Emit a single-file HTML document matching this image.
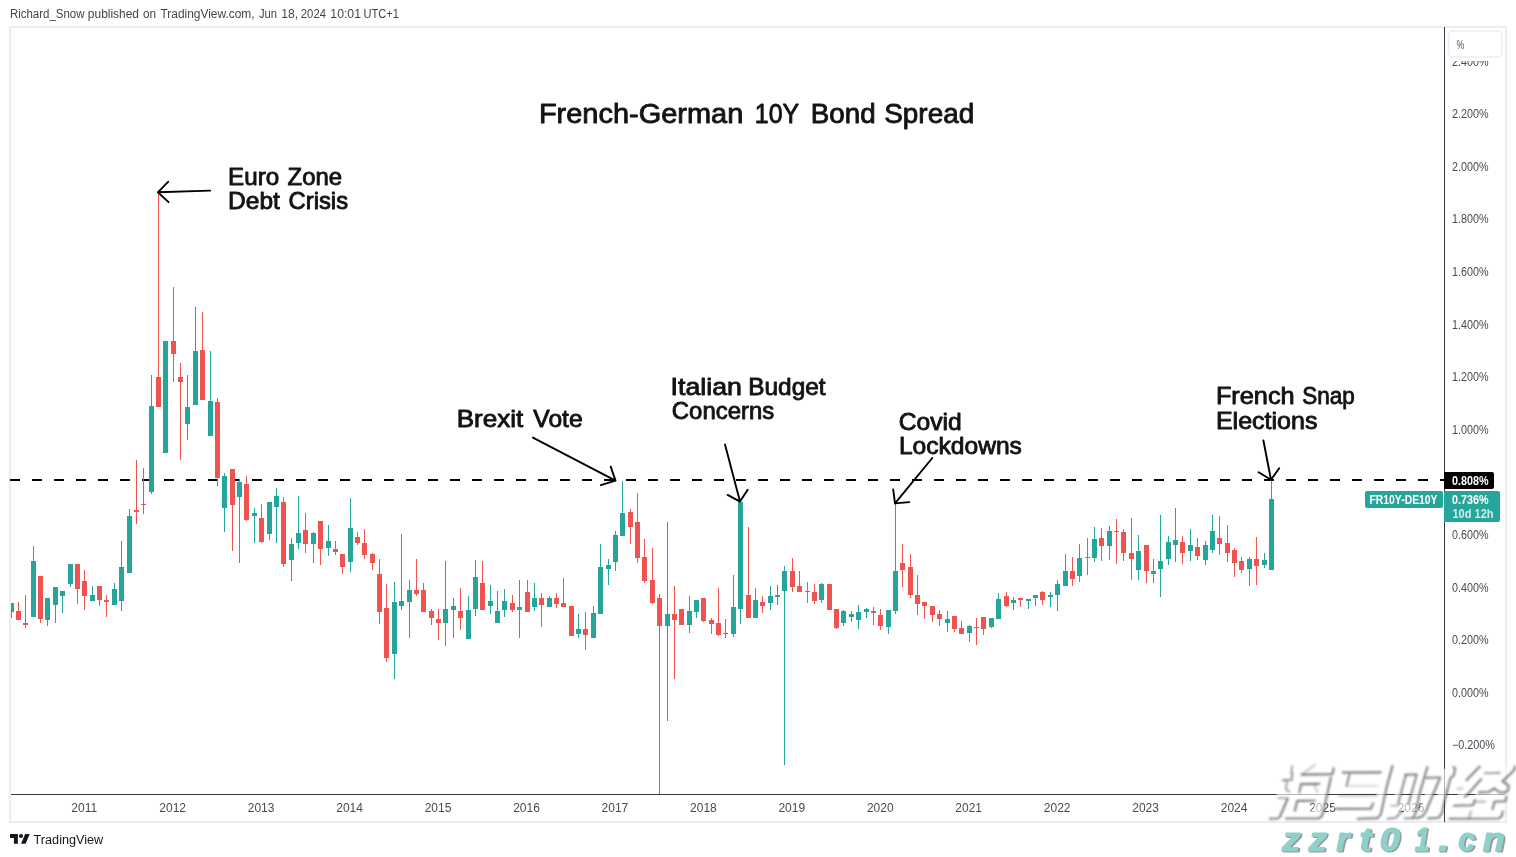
<!DOCTYPE html>
<html><head><meta charset="utf-8"><title>French-German 10Y Bond Spread</title>
<style>
html,body{margin:0;padding:0;background:#fff;}
body{width:1516px;height:857px;overflow:hidden;position:relative;font-family:"Liberation Sans",sans-serif;}
svg{position:absolute;left:0;top:0;display:block;will-change:transform;}
text{font-family:"Liberation Sans",sans-serif;}
.ax{font-size:12px;fill:#474a54;}
.hdr{font-size:12px;fill:#42454f;}
.wm{font-size:33px;font-weight:bold;font-style:italic;fill:#8fd1ca;stroke:#8fd1ca;stroke-width:1.2px;stroke-linejoin:round;}
.wms{fill:#9c97a0;stroke:#9c97a0;}
.lbl{font-size:23.05px;fill:#131313;stroke:#131313;stroke-width:0.85px;stroke-linejoin:round;}
.ttl{font-size:27.3px;fill:#131313;stroke:#131313;stroke-width:0.85px;stroke-linejoin:round;}
</style></head><body>
<svg width="1516" height="857" viewBox="0 0 1516 857">

<rect x="10" y="27" width="1496" height="795" fill="#fff" stroke="#ecedf2" stroke-width="2"/>
<line x1="10" y1="480" x2="1444" y2="480" stroke="#000" stroke-width="2" stroke-dasharray="10 12" shape-rendering="crispEdges"/>
<g shape-rendering="crispEdges">
<rect x="11" y="603" width="1" height="15" fill="#26a69a"/>
<rect x="11" y="603" width="3" height="9" fill="#26a69a"/>
<rect x="18" y="602" width="1" height="18" fill="#ef5350"/>
<rect x="16" y="611" width="5" height="9" fill="#ef5350"/>
<rect x="25" y="595" width="1" height="33" fill="#ef5350"/>
<rect x="23" y="623" width="5" height="2" fill="#ef5350"/>
<rect x="33" y="546" width="1" height="71" fill="#26a69a"/>
<rect x="31" y="561" width="5" height="56" fill="#26a69a"/>
<rect x="40" y="576" width="1" height="47" fill="#ef5350"/>
<rect x="38" y="576" width="5" height="43" fill="#ef5350"/>
<rect x="47" y="598" width="1" height="28" fill="#26a69a"/>
<rect x="45" y="598" width="5" height="22" fill="#26a69a"/>
<rect x="55" y="587" width="1" height="36" fill="#26a69a"/>
<rect x="53" y="587" width="5" height="18" fill="#26a69a"/>
<rect x="62" y="591" width="1" height="22" fill="#26a69a"/>
<rect x="60" y="591" width="5" height="5" fill="#26a69a"/>
<rect x="70" y="564" width="1" height="23" fill="#26a69a"/>
<rect x="68" y="564" width="5" height="20" fill="#26a69a"/>
<rect x="77" y="564" width="1" height="40" fill="#ef5350"/>
<rect x="75" y="564" width="5" height="25" fill="#ef5350"/>
<rect x="84" y="570" width="1" height="40" fill="#ef5350"/>
<rect x="82" y="581" width="5" height="15" fill="#ef5350"/>
<rect x="92" y="586" width="1" height="15" fill="#26a69a"/>
<rect x="90" y="595" width="5" height="6" fill="#26a69a"/>
<rect x="99" y="586" width="1" height="20" fill="#ef5350"/>
<rect x="97" y="586" width="5" height="14" fill="#ef5350"/>
<rect x="106" y="595" width="1" height="22" fill="#ef5350"/>
<rect x="104" y="600" width="5" height="2" fill="#ef5350"/>
<rect x="114" y="583" width="1" height="22" fill="#26a69a"/>
<rect x="112" y="589" width="5" height="16" fill="#26a69a"/>
<rect x="121" y="541" width="1" height="70" fill="#26a69a"/>
<rect x="119" y="567" width="5" height="34" fill="#26a69a"/>
<rect x="129" y="509" width="1" height="64" fill="#26a69a"/>
<rect x="127" y="516" width="5" height="57" fill="#26a69a"/>
<rect x="136" y="460" width="1" height="64" fill="#ef5350"/>
<rect x="134" y="510" width="5" height="2" fill="#ef5350"/>
<rect x="143" y="468" width="1" height="46" fill="#ef5350"/>
<rect x="141" y="504" width="5" height="1" fill="#ef5350"/>
<rect x="151" y="375" width="1" height="119" fill="#26a69a"/>
<rect x="149" y="406" width="5" height="86" fill="#26a69a"/>
<rect x="158" y="192" width="1" height="215" fill="#ef5350"/>
<rect x="156" y="377" width="5" height="30" fill="#ef5350"/>
<rect x="165" y="341" width="1" height="112" fill="#26a69a"/>
<rect x="163" y="341" width="5" height="112" fill="#26a69a"/>
<rect x="173" y="287" width="1" height="95" fill="#ef5350"/>
<rect x="171" y="341" width="5" height="13" fill="#ef5350"/>
<rect x="180" y="363" width="1" height="97" fill="#ef5350"/>
<rect x="178" y="377" width="5" height="5" fill="#ef5350"/>
<rect x="187" y="375" width="1" height="65" fill="#26a69a"/>
<rect x="185" y="407" width="5" height="17" fill="#26a69a"/>
<rect x="195" y="307" width="1" height="98" fill="#26a69a"/>
<rect x="193" y="351" width="5" height="54" fill="#26a69a"/>
<rect x="202" y="312" width="1" height="88" fill="#ef5350"/>
<rect x="200" y="350" width="5" height="50" fill="#ef5350"/>
<rect x="210" y="351" width="1" height="85" fill="#26a69a"/>
<rect x="208" y="401" width="5" height="35" fill="#26a69a"/>
<rect x="217" y="398" width="1" height="88" fill="#ef5350"/>
<rect x="215" y="402" width="5" height="76" fill="#ef5350"/>
<rect x="224" y="473" width="1" height="59" fill="#26a69a"/>
<rect x="222" y="476" width="5" height="32" fill="#26a69a"/>
<rect x="232" y="469" width="1" height="82" fill="#ef5350"/>
<rect x="230" y="469" width="5" height="36" fill="#ef5350"/>
<rect x="239" y="479" width="1" height="84" fill="#26a69a"/>
<rect x="237" y="482" width="5" height="15" fill="#26a69a"/>
<rect x="246" y="476" width="1" height="45" fill="#ef5350"/>
<rect x="244" y="484" width="5" height="36" fill="#ef5350"/>
<rect x="254" y="508" width="1" height="35" fill="#26a69a"/>
<rect x="252" y="513" width="5" height="3" fill="#26a69a"/>
<rect x="261" y="504" width="1" height="39" fill="#ef5350"/>
<rect x="259" y="518" width="5" height="24" fill="#ef5350"/>
<rect x="269" y="502" width="1" height="38" fill="#26a69a"/>
<rect x="267" y="502" width="5" height="32" fill="#26a69a"/>
<rect x="276" y="488" width="1" height="55" fill="#26a69a"/>
<rect x="274" y="496" width="5" height="11" fill="#26a69a"/>
<rect x="283" y="497" width="1" height="70" fill="#ef5350"/>
<rect x="281" y="502" width="5" height="62" fill="#ef5350"/>
<rect x="291" y="538" width="1" height="43" fill="#26a69a"/>
<rect x="289" y="544" width="5" height="16" fill="#26a69a"/>
<rect x="298" y="496" width="1" height="53" fill="#26a69a"/>
<rect x="296" y="533" width="5" height="10" fill="#26a69a"/>
<rect x="305" y="513" width="1" height="40" fill="#ef5350"/>
<rect x="303" y="530" width="5" height="14" fill="#ef5350"/>
<rect x="313" y="532" width="1" height="31" fill="#26a69a"/>
<rect x="311" y="533" width="5" height="11" fill="#26a69a"/>
<rect x="320" y="521" width="1" height="44" fill="#ef5350"/>
<rect x="318" y="521" width="5" height="28" fill="#ef5350"/>
<rect x="328" y="525" width="1" height="31" fill="#26a69a"/>
<rect x="326" y="541" width="5" height="7" fill="#26a69a"/>
<rect x="335" y="541" width="1" height="14" fill="#ef5350"/>
<rect x="333" y="549" width="5" height="3" fill="#ef5350"/>
<rect x="342" y="554" width="1" height="20" fill="#ef5350"/>
<rect x="340" y="554" width="5" height="13" fill="#ef5350"/>
<rect x="350" y="498" width="1" height="74" fill="#26a69a"/>
<rect x="348" y="528" width="5" height="34" fill="#26a69a"/>
<rect x="357" y="532" width="1" height="13" fill="#ef5350"/>
<rect x="355" y="537" width="5" height="6" fill="#ef5350"/>
<rect x="364" y="529" width="1" height="30" fill="#ef5350"/>
<rect x="362" y="543" width="5" height="12" fill="#ef5350"/>
<rect x="372" y="553" width="1" height="17" fill="#ef5350"/>
<rect x="370" y="554" width="5" height="9" fill="#ef5350"/>
<rect x="379" y="559" width="1" height="65" fill="#ef5350"/>
<rect x="377" y="574" width="5" height="38" fill="#ef5350"/>
<rect x="386" y="584" width="1" height="78" fill="#ef5350"/>
<rect x="384" y="608" width="5" height="50" fill="#ef5350"/>
<rect x="394" y="582" width="1" height="97" fill="#26a69a"/>
<rect x="392" y="602" width="5" height="52" fill="#26a69a"/>
<rect x="401" y="534" width="1" height="76" fill="#26a69a"/>
<rect x="399" y="601" width="5" height="5" fill="#26a69a"/>
<rect x="409" y="580" width="1" height="58" fill="#26a69a"/>
<rect x="407" y="590" width="5" height="12" fill="#26a69a"/>
<rect x="416" y="559" width="1" height="37" fill="#ef5350"/>
<rect x="414" y="590" width="5" height="4" fill="#ef5350"/>
<rect x="423" y="583" width="1" height="29" fill="#ef5350"/>
<rect x="421" y="590" width="5" height="22" fill="#ef5350"/>
<rect x="431" y="609" width="1" height="16" fill="#ef5350"/>
<rect x="429" y="611" width="5" height="7" fill="#ef5350"/>
<rect x="438" y="609" width="1" height="31" fill="#ef5350"/>
<rect x="436" y="619" width="5" height="4" fill="#ef5350"/>
<rect x="445" y="561" width="1" height="85" fill="#26a69a"/>
<rect x="443" y="609" width="5" height="14" fill="#26a69a"/>
<rect x="453" y="598" width="1" height="40" fill="#26a69a"/>
<rect x="451" y="606" width="5" height="4" fill="#26a69a"/>
<rect x="460" y="588" width="1" height="42" fill="#ef5350"/>
<rect x="458" y="611" width="5" height="7" fill="#ef5350"/>
<rect x="468" y="596" width="1" height="43" fill="#26a69a"/>
<rect x="466" y="610" width="5" height="29" fill="#26a69a"/>
<rect x="475" y="560" width="1" height="56" fill="#26a69a"/>
<rect x="473" y="577" width="5" height="32" fill="#26a69a"/>
<rect x="482" y="561" width="1" height="49" fill="#ef5350"/>
<rect x="480" y="583" width="5" height="27" fill="#ef5350"/>
<rect x="490" y="585" width="1" height="29" fill="#26a69a"/>
<rect x="488" y="601" width="5" height="5" fill="#26a69a"/>
<rect x="497" y="591" width="1" height="32" fill="#26a69a"/>
<rect x="495" y="611" width="5" height="12" fill="#26a69a"/>
<rect x="504" y="589" width="1" height="28" fill="#26a69a"/>
<rect x="502" y="601" width="5" height="9" fill="#26a69a"/>
<rect x="512" y="595" width="1" height="17" fill="#ef5350"/>
<rect x="510" y="603" width="5" height="7" fill="#ef5350"/>
<rect x="519" y="580" width="1" height="58" fill="#26a69a"/>
<rect x="517" y="607" width="5" height="3" fill="#26a69a"/>
<rect x="527" y="580" width="1" height="32" fill="#ef5350"/>
<rect x="525" y="592" width="5" height="20" fill="#ef5350"/>
<rect x="534" y="583" width="1" height="28" fill="#26a69a"/>
<rect x="532" y="598" width="5" height="9" fill="#26a69a"/>
<rect x="541" y="593" width="1" height="34" fill="#ef5350"/>
<rect x="539" y="598" width="5" height="7" fill="#ef5350"/>
<rect x="549" y="596" width="1" height="11" fill="#26a69a"/>
<rect x="547" y="598" width="5" height="9" fill="#26a69a"/>
<rect x="556" y="593" width="1" height="15" fill="#ef5350"/>
<rect x="554" y="598" width="5" height="6" fill="#ef5350"/>
<rect x="563" y="578" width="1" height="29" fill="#ef5350"/>
<rect x="561" y="603" width="5" height="4" fill="#ef5350"/>
<rect x="571" y="606" width="1" height="30" fill="#ef5350"/>
<rect x="569" y="606" width="5" height="30" fill="#ef5350"/>
<rect x="578" y="614" width="1" height="24" fill="#26a69a"/>
<rect x="576" y="629" width="5" height="5" fill="#26a69a"/>
<rect x="585" y="612" width="1" height="38" fill="#ef5350"/>
<rect x="583" y="629" width="5" height="6" fill="#ef5350"/>
<rect x="593" y="606" width="1" height="32" fill="#26a69a"/>
<rect x="591" y="613" width="5" height="25" fill="#26a69a"/>
<rect x="600" y="544" width="1" height="70" fill="#26a69a"/>
<rect x="598" y="567" width="5" height="47" fill="#26a69a"/>
<rect x="608" y="559" width="1" height="26" fill="#26a69a"/>
<rect x="606" y="565" width="5" height="4" fill="#26a69a"/>
<rect x="615" y="531" width="1" height="40" fill="#26a69a"/>
<rect x="613" y="535" width="5" height="27" fill="#26a69a"/>
<rect x="622" y="481" width="1" height="55" fill="#26a69a"/>
<rect x="620" y="513" width="5" height="23" fill="#26a69a"/>
<rect x="630" y="509" width="1" height="35" fill="#ef5350"/>
<rect x="628" y="512" width="5" height="15" fill="#ef5350"/>
<rect x="637" y="493" width="1" height="70" fill="#ef5350"/>
<rect x="635" y="522" width="5" height="36" fill="#ef5350"/>
<rect x="644" y="539" width="1" height="44" fill="#ef5350"/>
<rect x="642" y="557" width="5" height="24" fill="#ef5350"/>
<rect x="652" y="548" width="1" height="56" fill="#ef5350"/>
<rect x="650" y="580" width="5" height="23" fill="#ef5350"/>
<rect x="659" y="594" width="1" height="200" fill="#ef5350"/>
<rect x="657" y="598" width="5" height="28" fill="#ef5350"/>
<rect x="667" y="522" width="1" height="199" fill="#26a69a"/>
<rect x="665" y="614" width="5" height="12" fill="#26a69a"/>
<rect x="674" y="586" width="1" height="93" fill="#ef5350"/>
<rect x="672" y="614" width="5" height="6" fill="#ef5350"/>
<rect x="681" y="609" width="1" height="16" fill="#ef5350"/>
<rect x="679" y="609" width="5" height="16" fill="#ef5350"/>
<rect x="689" y="596" width="1" height="37" fill="#26a69a"/>
<rect x="687" y="611" width="5" height="14" fill="#26a69a"/>
<rect x="696" y="600" width="1" height="18" fill="#26a69a"/>
<rect x="694" y="600" width="5" height="12" fill="#26a69a"/>
<rect x="703" y="598" width="1" height="24" fill="#ef5350"/>
<rect x="701" y="598" width="5" height="23" fill="#ef5350"/>
<rect x="711" y="618" width="1" height="16" fill="#ef5350"/>
<rect x="709" y="620" width="5" height="4" fill="#ef5350"/>
<rect x="718" y="588" width="1" height="48" fill="#ef5350"/>
<rect x="716" y="623" width="5" height="12" fill="#ef5350"/>
<rect x="725" y="619" width="1" height="19" fill="#26a69a"/>
<rect x="723" y="633" width="5" height="1" fill="#26a69a"/>
<rect x="733" y="575" width="1" height="62" fill="#26a69a"/>
<rect x="731" y="607" width="5" height="27" fill="#26a69a"/>
<rect x="740" y="502" width="1" height="122" fill="#26a69a"/>
<rect x="738" y="502" width="5" height="107" fill="#26a69a"/>
<rect x="748" y="527" width="1" height="91" fill="#ef5350"/>
<rect x="746" y="595" width="5" height="23" fill="#ef5350"/>
<rect x="755" y="588" width="1" height="30" fill="#26a69a"/>
<rect x="753" y="600" width="5" height="18" fill="#26a69a"/>
<rect x="762" y="596" width="1" height="17" fill="#ef5350"/>
<rect x="760" y="602" width="5" height="4" fill="#ef5350"/>
<rect x="770" y="586" width="1" height="24" fill="#26a69a"/>
<rect x="768" y="596" width="5" height="7" fill="#26a69a"/>
<rect x="777" y="585" width="1" height="20" fill="#26a69a"/>
<rect x="775" y="595" width="5" height="2" fill="#26a69a"/>
<rect x="784" y="566" width="1" height="199" fill="#26a69a"/>
<rect x="782" y="571" width="5" height="20" fill="#26a69a"/>
<rect x="792" y="558" width="1" height="34" fill="#ef5350"/>
<rect x="790" y="571" width="5" height="16" fill="#ef5350"/>
<rect x="799" y="571" width="1" height="21" fill="#ef5350"/>
<rect x="797" y="586" width="5" height="6" fill="#ef5350"/>
<rect x="807" y="582" width="1" height="21" fill="#ef5350"/>
<rect x="805" y="591" width="5" height="1" fill="#ef5350"/>
<rect x="814" y="584" width="1" height="20" fill="#ef5350"/>
<rect x="812" y="592" width="5" height="9" fill="#ef5350"/>
<rect x="821" y="583" width="1" height="20" fill="#26a69a"/>
<rect x="819" y="584" width="5" height="16" fill="#26a69a"/>
<rect x="829" y="584" width="1" height="26" fill="#ef5350"/>
<rect x="827" y="584" width="5" height="26" fill="#ef5350"/>
<rect x="836" y="609" width="1" height="20" fill="#ef5350"/>
<rect x="834" y="609" width="5" height="19" fill="#ef5350"/>
<rect x="843" y="610" width="1" height="16" fill="#26a69a"/>
<rect x="841" y="611" width="5" height="12" fill="#26a69a"/>
<rect x="851" y="611" width="1" height="11" fill="#26a69a"/>
<rect x="849" y="614" width="5" height="3" fill="#26a69a"/>
<rect x="858" y="605" width="1" height="24" fill="#26a69a"/>
<rect x="856" y="612" width="5" height="8" fill="#26a69a"/>
<rect x="866" y="608" width="1" height="10" fill="#26a69a"/>
<rect x="864" y="609" width="5" height="3" fill="#26a69a"/>
<rect x="873" y="607" width="1" height="18" fill="#ef5350"/>
<rect x="871" y="611" width="5" height="2" fill="#ef5350"/>
<rect x="880" y="609" width="1" height="21" fill="#ef5350"/>
<rect x="878" y="615" width="5" height="11" fill="#ef5350"/>
<rect x="888" y="610" width="1" height="24" fill="#26a69a"/>
<rect x="886" y="610" width="5" height="17" fill="#26a69a"/>
<rect x="895" y="504" width="1" height="110" fill="#26a69a"/>
<rect x="893" y="571" width="5" height="40" fill="#26a69a"/>
<rect x="902" y="544" width="1" height="43" fill="#ef5350"/>
<rect x="900" y="563" width="5" height="7" fill="#ef5350"/>
<rect x="910" y="554" width="1" height="44" fill="#ef5350"/>
<rect x="908" y="567" width="5" height="28" fill="#ef5350"/>
<rect x="917" y="575" width="1" height="40" fill="#ef5350"/>
<rect x="915" y="595" width="5" height="9" fill="#ef5350"/>
<rect x="924" y="602" width="1" height="17" fill="#ef5350"/>
<rect x="922" y="602" width="5" height="4" fill="#ef5350"/>
<rect x="932" y="606" width="1" height="16" fill="#ef5350"/>
<rect x="930" y="606" width="5" height="9" fill="#ef5350"/>
<rect x="939" y="610" width="1" height="16" fill="#ef5350"/>
<rect x="937" y="614" width="5" height="5" fill="#ef5350"/>
<rect x="947" y="611" width="1" height="21" fill="#26a69a"/>
<rect x="945" y="619" width="5" height="4" fill="#26a69a"/>
<rect x="954" y="616" width="1" height="16" fill="#ef5350"/>
<rect x="952" y="616" width="5" height="13" fill="#ef5350"/>
<rect x="961" y="621" width="1" height="13" fill="#ef5350"/>
<rect x="959" y="628" width="5" height="6" fill="#ef5350"/>
<rect x="969" y="625" width="1" height="17" fill="#26a69a"/>
<rect x="967" y="626" width="5" height="7" fill="#26a69a"/>
<rect x="976" y="618" width="1" height="27" fill="#ef5350"/>
<rect x="974" y="627" width="5" height="1" fill="#ef5350"/>
<rect x="983" y="617" width="1" height="18" fill="#ef5350"/>
<rect x="981" y="617" width="5" height="12" fill="#ef5350"/>
<rect x="991" y="618" width="1" height="10" fill="#26a69a"/>
<rect x="989" y="618" width="5" height="9" fill="#26a69a"/>
<rect x="998" y="593" width="1" height="26" fill="#26a69a"/>
<rect x="996" y="599" width="5" height="20" fill="#26a69a"/>
<rect x="1006" y="592" width="1" height="15" fill="#ef5350"/>
<rect x="1004" y="596" width="5" height="10" fill="#ef5350"/>
<rect x="1013" y="597" width="1" height="13" fill="#26a69a"/>
<rect x="1011" y="600" width="5" height="3" fill="#26a69a"/>
<rect x="1020" y="598" width="1" height="9" fill="#ef5350"/>
<rect x="1018" y="598" width="5" height="2" fill="#ef5350"/>
<rect x="1028" y="599" width="1" height="10" fill="#26a69a"/>
<rect x="1026" y="599" width="5" height="2" fill="#26a69a"/>
<rect x="1035" y="595" width="1" height="11" fill="#26a69a"/>
<rect x="1033" y="595" width="5" height="3" fill="#26a69a"/>
<rect x="1042" y="591" width="1" height="14" fill="#ef5350"/>
<rect x="1040" y="592" width="5" height="8" fill="#ef5350"/>
<rect x="1050" y="592" width="1" height="15" fill="#26a69a"/>
<rect x="1048" y="595" width="5" height="2" fill="#26a69a"/>
<rect x="1057" y="580" width="1" height="31" fill="#26a69a"/>
<rect x="1055" y="584" width="5" height="11" fill="#26a69a"/>
<rect x="1065" y="554" width="1" height="32" fill="#26a69a"/>
<rect x="1063" y="571" width="5" height="15" fill="#26a69a"/>
<rect x="1072" y="557" width="1" height="29" fill="#ef5350"/>
<rect x="1070" y="571" width="5" height="8" fill="#ef5350"/>
<rect x="1079" y="544" width="1" height="38" fill="#26a69a"/>
<rect x="1077" y="558" width="5" height="18" fill="#26a69a"/>
<rect x="1087" y="538" width="1" height="37" fill="#ef5350"/>
<rect x="1085" y="557" width="5" height="1" fill="#ef5350"/>
<rect x="1094" y="527" width="1" height="35" fill="#26a69a"/>
<rect x="1092" y="539" width="5" height="19" fill="#26a69a"/>
<rect x="1101" y="528" width="1" height="33" fill="#ef5350"/>
<rect x="1099" y="538" width="5" height="8" fill="#ef5350"/>
<rect x="1109" y="526" width="1" height="34" fill="#26a69a"/>
<rect x="1107" y="531" width="5" height="15" fill="#26a69a"/>
<rect x="1116" y="519" width="1" height="45" fill="#ef5350"/>
<rect x="1114" y="531" width="5" height="1" fill="#ef5350"/>
<rect x="1123" y="529" width="1" height="32" fill="#ef5350"/>
<rect x="1121" y="532" width="5" height="21" fill="#ef5350"/>
<rect x="1131" y="518" width="1" height="62" fill="#ef5350"/>
<rect x="1129" y="553" width="5" height="6" fill="#ef5350"/>
<rect x="1138" y="535" width="1" height="45" fill="#26a69a"/>
<rect x="1136" y="551" width="5" height="19" fill="#26a69a"/>
<rect x="1146" y="545" width="1" height="38" fill="#ef5350"/>
<rect x="1144" y="545" width="5" height="26" fill="#ef5350"/>
<rect x="1153" y="559" width="1" height="24" fill="#26a69a"/>
<rect x="1151" y="571" width="5" height="3" fill="#26a69a"/>
<rect x="1160" y="515" width="1" height="82" fill="#26a69a"/>
<rect x="1158" y="561" width="5" height="8" fill="#26a69a"/>
<rect x="1168" y="536" width="1" height="29" fill="#26a69a"/>
<rect x="1166" y="542" width="5" height="17" fill="#26a69a"/>
<rect x="1175" y="508" width="1" height="54" fill="#26a69a"/>
<rect x="1173" y="540" width="5" height="5" fill="#26a69a"/>
<rect x="1182" y="536" width="1" height="28" fill="#ef5350"/>
<rect x="1180" y="542" width="5" height="11" fill="#ef5350"/>
<rect x="1190" y="529" width="1" height="32" fill="#26a69a"/>
<rect x="1188" y="545" width="5" height="6" fill="#26a69a"/>
<rect x="1197" y="538" width="1" height="22" fill="#ef5350"/>
<rect x="1195" y="547" width="5" height="9" fill="#ef5350"/>
<rect x="1205" y="541" width="1" height="24" fill="#26a69a"/>
<rect x="1203" y="545" width="5" height="15" fill="#26a69a"/>
<rect x="1212" y="515" width="1" height="38" fill="#26a69a"/>
<rect x="1210" y="531" width="5" height="19" fill="#26a69a"/>
<rect x="1219" y="516" width="1" height="39" fill="#ef5350"/>
<rect x="1217" y="538" width="5" height="6" fill="#ef5350"/>
<rect x="1227" y="525" width="1" height="37" fill="#ef5350"/>
<rect x="1225" y="543" width="5" height="10" fill="#ef5350"/>
<rect x="1234" y="548" width="1" height="29" fill="#ef5350"/>
<rect x="1232" y="550" width="5" height="13" fill="#ef5350"/>
<rect x="1241" y="557" width="1" height="16" fill="#ef5350"/>
<rect x="1239" y="561" width="5" height="9" fill="#ef5350"/>
<rect x="1249" y="557" width="1" height="29" fill="#26a69a"/>
<rect x="1247" y="559" width="5" height="10" fill="#26a69a"/>
<rect x="1256" y="537" width="1" height="48" fill="#ef5350"/>
<rect x="1254" y="559" width="5" height="7" fill="#ef5350"/>
<rect x="1264" y="553" width="1" height="15" fill="#26a69a"/>
<rect x="1262" y="560" width="5" height="5" fill="#26a69a"/>
<rect x="1271" y="480" width="1" height="90" fill="#26a69a"/>
<rect x="1269" y="499" width="5" height="71" fill="#26a69a"/>
</g>
<rect x="1444" y="27" width="1" height="795" fill="#363a45" shape-rendering="crispEdges"/>
<rect x="11" y="794" width="1494" height="1" fill="#363a45" shape-rendering="crispEdges"/>
<text class="ax" x="1452" y="65.5" textLength="36.5" lengthAdjust="spacingAndGlyphs">2.400%</text>
<text class="ax" x="1452" y="118.1" textLength="36.5" lengthAdjust="spacingAndGlyphs">2.200%</text>
<text class="ax" x="1452" y="170.7" textLength="36.5" lengthAdjust="spacingAndGlyphs">2.000%</text>
<text class="ax" x="1452" y="223.3" textLength="36.5" lengthAdjust="spacingAndGlyphs">1.800%</text>
<text class="ax" x="1452" y="275.9" textLength="36.5" lengthAdjust="spacingAndGlyphs">1.600%</text>
<text class="ax" x="1452" y="328.5" textLength="36.5" lengthAdjust="spacingAndGlyphs">1.400%</text>
<text class="ax" x="1452" y="381.1" textLength="36.5" lengthAdjust="spacingAndGlyphs">1.200%</text>
<text class="ax" x="1452" y="433.7" textLength="36.5" lengthAdjust="spacingAndGlyphs">1.000%</text>
<text class="ax" x="1452" y="538.9" textLength="36.5" lengthAdjust="spacingAndGlyphs">0.600%</text>
<text class="ax" x="1452" y="591.5" textLength="36.5" lengthAdjust="spacingAndGlyphs">0.400%</text>
<text class="ax" x="1452" y="644.1" textLength="36.5" lengthAdjust="spacingAndGlyphs">0.200%</text>
<text class="ax" x="1452" y="696.7" textLength="36.5" lengthAdjust="spacingAndGlyphs">0.000%</text>
<text class="ax" x="1452" y="749.3" textLength="43" lengthAdjust="spacingAndGlyphs">−0.200%</text>
<rect x="1445" y="28" width="59" height="33" fill="#fff"/>
<rect x="1448.5" y="31" width="53.5" height="26" rx="4" fill="#fff" stroke="#ecedf2" stroke-width="1.5"/>
<text x="1456.6" y="49" font-size="12.5px" fill="#50535e" textLength="7.8" lengthAdjust="spacingAndGlyphs">%</text>
<text class="ax" x="84.2" y="812" text-anchor="middle" fill="#50535e">2011</text>
<text class="ax" x="172.7" y="812" text-anchor="middle" fill="#50535e">2012</text>
<text class="ax" x="261.1" y="812" text-anchor="middle" fill="#50535e">2013</text>
<text class="ax" x="349.6" y="812" text-anchor="middle" fill="#50535e">2014</text>
<text class="ax" x="438.0" y="812" text-anchor="middle" fill="#50535e">2015</text>
<text class="ax" x="526.5" y="812" text-anchor="middle" fill="#50535e">2016</text>
<text class="ax" x="614.9" y="812" text-anchor="middle" fill="#50535e">2017</text>
<text class="ax" x="703.4" y="812" text-anchor="middle" fill="#50535e">2018</text>
<text class="ax" x="791.8" y="812" text-anchor="middle" fill="#50535e">2019</text>
<text class="ax" x="880.3" y="812" text-anchor="middle" fill="#50535e">2020</text>
<text class="ax" x="968.7" y="812" text-anchor="middle" fill="#50535e">2021</text>
<text class="ax" x="1057.2" y="812" text-anchor="middle" fill="#50535e">2022</text>
<text class="ax" x="1145.6" y="812" text-anchor="middle" fill="#50535e">2023</text>
<text class="ax" x="1234.1" y="812" text-anchor="middle" fill="#50535e">2024</text>
<text class="ax" x="1322.5" y="812" text-anchor="middle" fill="#50535e">2025</text>
<text class="ax" x="1411.0" y="812" text-anchor="middle" fill="#50535e">2026</text>
<path d="M1444 472h48a2 2 0 0 1 2 2v13a2 2 0 0 1-2 2h-48z" fill="#000"/>
<text x="1452" y="484.6" font-size="12px" font-weight="bold" fill="#fff" textLength="36.5" lengthAdjust="spacingAndGlyphs">0.808%</text>
<rect x="1365" y="491" width="78" height="17" rx="2" fill="#26a69a"/>
<text x="1369.5" y="503.8" font-size="12px" font-weight="bold" fill="#fff" textLength="68" lengthAdjust="spacingAndGlyphs">FR10Y-DE10Y</text>
<path d="M1444 491h54a2 2 0 0 1 2 2v27a2 2 0 0 1-2 2h-54z" fill="#26a69a"/>
<text x="1452" y="503.8" font-size="12px" font-weight="bold" fill="#fff" textLength="36.5" lengthAdjust="spacingAndGlyphs">0.736%</text>
<text x="1452.5" y="517.8" font-size="12px" font-weight="bold" fill="#d4edeb" textLength="41" lengthAdjust="spacingAndGlyphs">10d 12h</text>
<path d="M210.2 190.6L157.9 192.3M168.3 181.7L157.9 192.3L168.6 202.1" fill="none" stroke="#000" stroke-width="1.9" stroke-linecap="round" stroke-linejoin="round"/>
<path d="M532.9 437.6L615.5 480.6M610.7 466.6L615.5 480.6L600.9 485.2" fill="none" stroke="#000" stroke-width="1.9" stroke-linecap="round" stroke-linejoin="round"/>
<path d="M725.0 444.4L740.0 501.6M727.6 494.9L740.0 501.6L747.7 489.7" fill="none" stroke="#000" stroke-width="1.9" stroke-linecap="round" stroke-linejoin="round"/>
<path d="M932.3 458.0L895.0 503.4M893.2 489.5L895.0 503.4L909.3 502.1" fill="none" stroke="#000" stroke-width="1.9" stroke-linecap="round" stroke-linejoin="round"/>
<path d="M1263.4 440.5L1271.0 479.8M1258.6 472.2L1271.0 479.8L1279.2 468.3" fill="none" stroke="#000" stroke-width="1.9" stroke-linecap="round" stroke-linejoin="round"/>
<text class="ttl" x="538.92" y="122.7" textLength="204.38" lengthAdjust="spacingAndGlyphs">French-German</text>
<text class="ttl" x="754.80" y="122.7" textLength="44.30" lengthAdjust="spacingAndGlyphs">10Y</text>
<text class="ttl" x="810.76" y="122.7" textLength="64.88" lengthAdjust="spacingAndGlyphs">Bond</text>
<text class="ttl" x="884.24" y="122.7" textLength="89.96" lengthAdjust="spacingAndGlyphs">Spread</text>
<text class="lbl" x="228.14" y="184.5" textLength="51.18" lengthAdjust="spacingAndGlyphs">Euro</text>
<text class="lbl" x="287.62" y="184.5" textLength="54.42" lengthAdjust="spacingAndGlyphs">Zone</text>
<text class="lbl" x="228.14" y="208.5" textLength="51.70" lengthAdjust="spacingAndGlyphs">Debt</text>
<text class="lbl" x="288.62" y="208.5" textLength="59.42" lengthAdjust="spacingAndGlyphs">Crisis</text>
<text class="lbl" x="456.70" y="427.2" textLength="66.48" lengthAdjust="spacingAndGlyphs">Brexit</text>
<text class="lbl" x="533.38" y="427.2" textLength="49.22" lengthAdjust="spacingAndGlyphs">Vote</text>
<text class="lbl" x="670.64" y="395.3" textLength="71.22" lengthAdjust="spacingAndGlyphs">Italian</text>
<text class="lbl" x="748.30" y="395.3" textLength="77.26" lengthAdjust="spacingAndGlyphs">Budget</text>
<text class="lbl" x="671.84" y="419.1" textLength="102.32" lengthAdjust="spacingAndGlyphs">Concerns</text>
<text class="lbl" x="898.74" y="430.3" textLength="62.96" lengthAdjust="spacingAndGlyphs">Covid</text>
<text class="lbl" x="898.92" y="454.3" textLength="122.96" lengthAdjust="spacingAndGlyphs">Lockdowns</text>
<text class="lbl" x="1215.92" y="404.4" textLength="78.72" lengthAdjust="spacingAndGlyphs">French</text>
<text class="lbl" x="1302.24" y="404.4" textLength="52.58" lengthAdjust="spacingAndGlyphs">Snap</text>
<text class="lbl" x="1215.92" y="428.5" textLength="101.52" lengthAdjust="spacingAndGlyphs">Elections</text>
<text class="hdr" x="9.90" y="18.3" textLength="74.66" lengthAdjust="spacingAndGlyphs">Richard_Snow</text>
<text class="hdr" x="87.84" y="18.3" textLength="51.18" lengthAdjust="spacingAndGlyphs">published</text>
<text class="hdr" x="142.90" y="18.3" textLength="13.14" lengthAdjust="spacingAndGlyphs">on</text>
<text class="hdr" x="160.44" y="18.3" textLength="94.20" lengthAdjust="spacingAndGlyphs">TradingView.com,</text>
<text class="hdr" x="259.00" y="18.3" textLength="18.04" lengthAdjust="spacingAndGlyphs">Jun</text>
<text class="hdr" x="281.38" y="18.3" textLength="16.82" lengthAdjust="spacingAndGlyphs">18,</text>
<text class="hdr" x="300.84" y="18.3" textLength="25.16" lengthAdjust="spacingAndGlyphs">2024</text>
<text class="hdr" x="330.34" y="18.3" textLength="30.60" lengthAdjust="spacingAndGlyphs">10:01</text>
<text class="hdr" x="363.40" y="18.3" textLength="35.48" lengthAdjust="spacingAndGlyphs">UTC+1</text>
<g fill="#131722"><path d="M10 834.1h7.9v9.7h-4v-5.9h-3.9z"/><circle cx="21" cy="836.1" r="2"/><path d="M25.2 834.1h4.5l-4.1 9.7h-4.6z"/></g>
<text x="33.6" y="843.6" font-size="12.5px" fill="#131722" textLength="69.6" lengthAdjust="spacingAndGlyphs">TradingView</text>
<defs><filter id="wb" x="-5%" y="-5%" width="110%" height="110%"><feGaussianBlur stdDeviation="0.8"/></filter></defs>
<g fill="#fff" fill-opacity="0.62" fill-rule="evenodd">
<path d="M1282.0 765.5L1292.5 765.5L1291.6 779.9L1280.8 779.9Z"/>
<path d="M1277.2 782.1L1287.2 782.1L1286.1 790.9L1276.1 790.9Z"/>
<path d="M1277.2 792.4L1293.2 792.4L1292.2 796.8L1276.4 796.8Z"/>
<path d="M1278.3 796.8L1287.9 796.8L1279.4 818.1L1269.1 818.1L1270.6 814.0Z"/>
<path d="M1298.6 767.4L1334.2 767.4L1333.1 774.0L1297.1 774.0Z"/>
<path d="M1305.2 763.3L1315.5 763.3L1300.8 774.7L1293.4 774.7Z"/>
<path d="M1296.4 777.3L1331.3 777.3L1323.4 814.8L1320.2 818.1L1287.8 818.1ZM1301.1 783.7L1319.9 783.7L1318.0 792.4L1299.3 792.4ZM1297.5 800.6L1315.5 800.6L1313.1 810.7L1295.2 810.7Z"/>
<path d="M1341.8 765.5L1392.5 765.5L1391.1 772.1L1340.3 772.1Z"/>
<path d="M1340.3 772.1L1349.5 772.1L1346.6 785.7L1337.4 785.7Z"/>
<path d="M1337.4 785.7L1378.9 785.7L1377.5 793.5L1335.6 793.5Z"/>
<path d="M1381.9 772.1L1391.1 772.1L1380.8 814.4L1377.5 818.1L1357.6 818.5L1358.7 814.0L1369.4 814.0L1372.3 811.5Z"/>
<path d="M1334.8 801.2L1373.8 801.2L1371.6 808.2L1333.0 808.2Z"/>
<path d="M1398.0 765.5L1428.1 765.5L1417.5 811.5L1413.4 818.1L1404.6 818.1L1406.1 811.5L1402.4 810.7L1395.0 818.1L1385.5 818.5L1388.4 811.5L1393.6 804.1ZM1406.1 775.1L1416.4 775.1L1409.0 803.0L1398.7 803.0Z"/>
<path d="M1425.2 768.8L1455.3 768.8L1453.5 777.3L1423.3 777.3Z"/>
<path d="M1441.4 777.3L1450.5 777.3L1446.9 791.6L1443.9 804.1L1442.1 812.9L1438.8 817.7L1428.1 818.1L1429.0 814.0L1434.0 811.5Z"/>
<path d="M1430.3 779.1L1439.7 779.1L1425.9 811.5L1422.2 816.6L1416.4 818.1L1413.4 818.1L1418.6 811.5Z"/>
<path d="M1470.9 765.5L1480.1 765.5L1466.8 779.9L1457.6 779.9Z"/>
<path d="M1472.4 779.1L1481.5 779.1L1465.0 796.8L1455.8 796.8Z"/>
<path d="M1454.7 798.2L1475.3 798.2L1473.5 805.0L1452.9 805.0Z"/>
<path d="M1451.0 811.5L1503.2 811.5L1501.4 818.3L1449.2 818.3Z"/>
<path d="M1484.1 766.6L1515.4 766.6L1513.5 771.0L1502.5 781.3L1508.8 785.7L1507.6 791.6L1479.0 792.0L1491.5 782.1L1498.1 773.2L1484.1 773.2Z"/>
<path d="M1475.7 793.5L1507.3 793.5L1505.4 801.2L1473.5 801.2Z"/>
<path d="M1484.1 801.2L1494.4 801.2L1492.2 811.5L1481.9 811.5Z"/>
</g>
<g fill="none" stroke="#3c3c42" stroke-width="2.1" stroke-linecap="round" stroke-linejoin="round" filter="url(#wb)">
<path d="M1291.9 766.6L1291.4 772.9" stroke-opacity="0.46"/>
<path d="M1292.3 773.2L1291.8 779.7L1282.8 780.4" stroke-opacity="0.53"/>
<path d="M1286.8 781.7L1286.1 789.8L1289.4 791.6" stroke-opacity="0.46"/>
<path d="M1314.7 765.1L1300.8 775.1" stroke-opacity="0.26"/>
<path d="M1302.2 774.6L1332.5 774.1L1333.7 768.2" stroke-opacity="0.66"/>
<path d="M1330.9 777.6L1322.8 814.0L1320.6 817.4L1318.4 818.5L1286.1 818.5" stroke-opacity="0.66"/>
<path d="M1299.4 792.4L1301.1 784.1L1319.1 783.9" stroke-opacity="0.66"/>
<path d="M1314.7 785.0L1317.3 792.4" stroke-opacity="0.26"/>
<path d="M1294.9 810.7L1297.2 800.9L1314.7 800.7" stroke-opacity="0.66"/>
<path d="M1278.3 797.9L1286.8 798.2" stroke-opacity="0.40"/>
<path d="M1287.7 798.6L1279.8 817.0L1277.6 818.5L1269.9 818.7" stroke-opacity="0.66"/>
<path d="M1342.9 772.6L1380.8 772.4" stroke-opacity="0.66"/>
<path d="M1349.4 774.7L1346.6 785.7" stroke-opacity="0.59"/>
<path d="M1348.1 785.9L1377.5 785.7" stroke-opacity="0.17"/>
<path d="M1392.5 765.9L1387.0 785.7L1380.8 814.4L1377.5 818.1L1357.6 818.8" stroke-opacity="0.66"/>
<path d="M1336.3 808.9L1370.9 808.7L1373.1 803.4" stroke-opacity="0.66"/>
<path d="M1339.2 795.7L1376.7 795.5" stroke-opacity="0.33"/>
<path d="M1405.7 775.4L1398.0 804.1" stroke-opacity="0.59"/>
<path d="M1405.3 774.7L1416.7 774.5" stroke-opacity="0.66"/>
<path d="M1416.4 775.8L1408.6 803.4" stroke-opacity="0.59"/>
<path d="M1427.4 767.0L1419.3 794.6L1416.4 810.7L1413.4 818.1" stroke-opacity="0.66"/>
<path d="M1402.4 810.7L1395.8 817.7L1387.7 818.8" stroke-opacity="0.53"/>
<path d="M1404.6 818.5L1413.4 818.1" stroke-opacity="0.53"/>
<path d="M1426.6 777.9L1440.6 777.5" stroke-opacity="0.59"/>
<path d="M1439.5 779.1L1425.9 811.5L1422.2 816.6L1416.4 818.2" stroke-opacity="0.66"/>
<path d="M1453.5 767.0L1455.2 769.2L1453.5 775.8L1450.5 778.0L1446.9 791.6" stroke-opacity="0.66"/>
<path d="M1446.9 791.6L1443.9 804.1L1442.1 812.9L1438.8 817.7L1428.1 818.5" stroke-opacity="0.66"/>
<path d="M1391.4 805.6L1397.2 806.0" stroke-opacity="0.33"/>
<path d="M1479.7 766.6L1466.5 780.2" stroke-opacity="0.66"/>
<path d="M1481.2 779.1L1469.4 792.4L1465.0 796.8" stroke-opacity="0.66"/>
<path d="M1457.6 789.0L1462.1 788.3" stroke-opacity="0.33"/>
<path d="M1484.9 773.2L1499.6 772.9" stroke-opacity="0.46"/>
<path d="M1515.0 766.6L1513.5 771.0L1502.5 781.3L1508.8 785.7L1508.0 790.9L1504.7 792.4L1498.8 792.0L1494.4 788.3L1488.5 792.0L1479.0 792.4" stroke-opacity="0.66"/>
<path d="M1506.5 796.8L1505.4 801.2L1494.4 801.8L1492.6 809.3" stroke-opacity="0.66"/>
<path d="M1474.9 799.7L1473.8 804.1L1471.6 805.2L1454.0 805.7" stroke-opacity="0.66"/>
<path d="M1476.8 801.8L1484.9 801.5" stroke-opacity="0.40"/>
<path d="M1502.9 811.5L1501.8 815.9L1498.8 818.5L1449.6 818.8" stroke-opacity="0.66"/>
<path d="M1470.9 811.5L1469.0 818.1" stroke-opacity="0.40"/>
</g>
<g><text class="wm wms" transform="translate(1.6,1.6)" x="1282.06" y="850.7" textLength="18.40" lengthAdjust="spacingAndGlyphs">z</text>
<text class="wm" x="1282.06" y="850.7" textLength="18.40" lengthAdjust="spacingAndGlyphs">z</text>
<text class="wm wms" transform="translate(1.6,1.6)" x="1308.42" y="850.7" textLength="18.40" lengthAdjust="spacingAndGlyphs">z</text>
<text class="wm" x="1308.42" y="850.7" textLength="18.40" lengthAdjust="spacingAndGlyphs">z</text>
<text class="wm wms" transform="translate(1.6,1.6)" x="1336.32" y="850.7" textLength="13.20" lengthAdjust="spacingAndGlyphs">r</text>
<text class="wm" x="1336.32" y="850.7" textLength="13.20" lengthAdjust="spacingAndGlyphs">r</text>
<text class="wm wms" transform="translate(1.6,1.6)" x="1359.62" y="850.7" textLength="12.22" lengthAdjust="spacingAndGlyphs">t</text>
<text class="wm" x="1359.62" y="850.7" textLength="12.22" lengthAdjust="spacingAndGlyphs">t</text>
<text class="wm wms" transform="translate(1.6,1.6)" x="1379.76" y="850.7" textLength="20.14" lengthAdjust="spacingAndGlyphs">0</text>
<text class="wm" x="1379.76" y="850.7" textLength="20.14" lengthAdjust="spacingAndGlyphs">0</text>
<text class="wm wms" transform="translate(1.6,1.6)" x="1414.68" y="850.7" textLength="14.84" lengthAdjust="spacingAndGlyphs">1</text>
<text class="wm" x="1414.68" y="850.7" textLength="14.84" lengthAdjust="spacingAndGlyphs">1</text>
<text class="wm wms" transform="translate(1.6,1.6)" x="1438.18" y="850.7" textLength="11.18" lengthAdjust="spacingAndGlyphs">.</text>
<text class="wm" x="1438.18" y="850.7" textLength="11.18" lengthAdjust="spacingAndGlyphs">.</text>
<text class="wm wms" transform="translate(1.6,1.6)" x="1458.36" y="850.7" textLength="16.82" lengthAdjust="spacingAndGlyphs">c</text>
<text class="wm" x="1458.36" y="850.7" textLength="16.82" lengthAdjust="spacingAndGlyphs">c</text>
<text class="wm wms" transform="translate(1.6,1.6)" x="1482.86" y="850.7" textLength="21.88" lengthAdjust="spacingAndGlyphs">n</text>
<text class="wm" x="1482.86" y="850.7" textLength="21.88" lengthAdjust="spacingAndGlyphs">n</text></g>
</svg></body></html>
